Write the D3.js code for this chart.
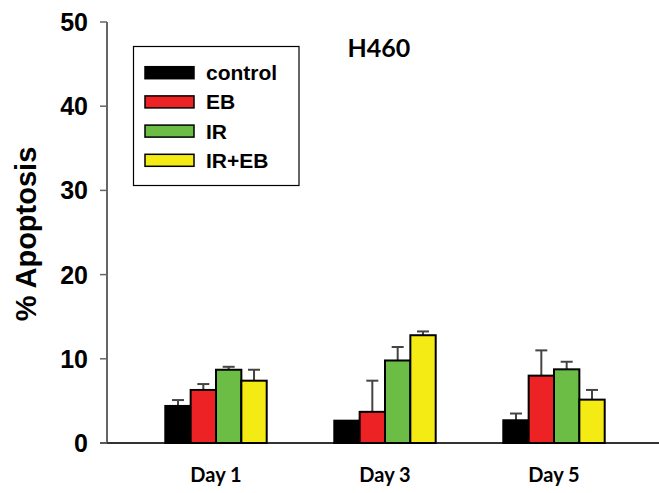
<!DOCTYPE html>
<html>
<head>
<meta charset="utf-8">
<script src="https://cdn.jsdelivr.net/npm/d3@7"></script>
<style>
  body { margin: 0; background: #fff; }
  svg { display: block; }
</style>
</head>
<body>
<script>
// Data
const days = ["Day 1", "Day 3", "Day 5"];
const groups = ["control", "EB", "IR", "IR+EB"];
const colors = ["#000000", "#ed2224", "#6cbd45", "#f5eb14"];
const means = [
  [4.4, 6.3, 8.7, 7.4],
  [2.65, 3.7, 9.8, 12.8],
  [2.7, 8.0, 8.75, 5.15]
];
const errors = [
  [0.7, 0.7, 0.35, 1.3],
  [0.0, 3.7, 1.6, 0.45],
  [0.8, 3.0, 0.9, 1.15]
];
const yTicks = [0, 10, 20, 30, 40, 50];

const width = 659, height = 493;
const svg = d3.select("body").append("svg")
  .attr("width", width)
  .attr("height", height);

const y = d3.scaleLinear().domain([0, 50]).range([443, 22]);
const x = d3.scaleBand().domain(days).range([131.5, 638.5])
  .paddingInner(0.4).paddingOuter(0.2);
const xi = d3.scaleBand().domain(groups).range([0, x.bandwidth()]);

// axes
const axisColor = "#666";
svg.append("line")
  .attr("x1", 107).attr("x2", 107)
  .attr("y1", y(50)).attr("y2", y(0))
  .attr("stroke", axisColor).attr("stroke-width", 2);
svg.append("line")
  .attr("x1", 100).attr("x2", 659)
  .attr("y1", y(0)).attr("y2", y(0))
  .attr("stroke", "#333").attr("stroke-width", 2);

svg.selectAll(".ytick").data(yTicks).enter().append("line")
  .attr("x1", 100).attr("x2", 107)
  .attr("y1", d => y(d)).attr("y2", d => y(d))
  .attr("stroke", axisColor).attr("stroke-width", 1.5);

svg.selectAll(".ylab").data(yTicks).enter().append("text")
  .attr("x", 88).attr("y", d => y(d)).attr("dy", "0.36em")
  .attr("text-anchor", "end")
  .attr("font-family", "Liberation Sans, Arial, sans-serif")
  .attr("font-weight", "bold").attr("font-size", 25)
  .text(d => d);

svg.append("text")
  .attr("transform", "translate(36,234) rotate(-90)")
  .attr("text-anchor", "middle")
  .attr("font-family", "Liberation Sans, Arial, sans-serif")
  .attr("font-weight", "bold").attr("font-size", 29)
  .text("% Apoptosis");

// day labels
svg.selectAll(".xlab").data(days).enter().append("text")
  .attr("x", d => x(d) + x.bandwidth() / 2)
  .attr("y", 482)
  .attr("text-anchor", "middle")
  .attr("font-family", "Lato, sans-serif")
  .attr("font-weight", "bold").attr("font-size", 20)
  .text(d => d);

// title
svg.append("text")
  .attr("x", 379).attr("y", 57)
  .attr("text-anchor", "middle")
  .attr("font-family", "Lato, sans-serif")
  .attr("font-weight", "bold").attr("font-size", 25)
  .text("H460");

// bars + error bars
const dayG = svg.selectAll(".day").data(days).enter().append("g")
  .attr("transform", d => `translate(${x(d)},0)`);

dayG.each(function (day, di) {
  const g = d3.select(this);
  groups.forEach((grp, gi) => {
    const v = means[di][gi];
    const e = errors[di][gi];
    const cx = xi(grp) + xi.bandwidth() / 2;
    if (e > 0) {
      g.append("line")
        .attr("x1", cx).attr("x2", cx)
        .attr("y1", y(v)).attr("y2", y(v + e))
        .attr("stroke", "#444").attr("stroke-width", 2);
      g.append("line")
        .attr("x1", cx - 6).attr("x2", cx + 6)
        .attr("y1", y(v + e)).attr("y2", y(v + e))
        .attr("stroke", "#444").attr("stroke-width", 2);
    }
    g.append("rect")
      .attr("x", xi(grp)).attr("y", y(v))
      .attr("width", xi.bandwidth()).attr("height", y(0) - y(v))
      .attr("fill", colors[gi])
      .attr("stroke", "#000").attr("stroke-width", 2);
  });
});

// legend
svg.append("rect")
  .attr("x", 133.5).attr("y", 46.5)
  .attr("width", 165.5).attr("height", 139)
  .attr("fill", "#fff").attr("stroke", "#000").attr("stroke-width", 1.2);

const leg = svg.selectAll(".leg").data(groups).enter().append("g")
  .attr("transform", (d, i) => `translate(0,${72.7 + i * 29.2})`);
leg.append("rect")
  .attr("x", 145).attr("y", -6)
  .attr("width", 49).attr("height", 12)
  .attr("fill", (d, i) => colors[i])
  .attr("stroke", "#000").attr("stroke-width", 1.5);
leg.append("text")
  .attr("x", 206).attr("y", 0).attr("dy", "0.36em")
  .attr("font-family", "Liberation Sans, Arial, sans-serif")
  .attr("font-weight", "bold").attr("font-size", 21)
  .text(d => d);
</script>
</body>
</html>
